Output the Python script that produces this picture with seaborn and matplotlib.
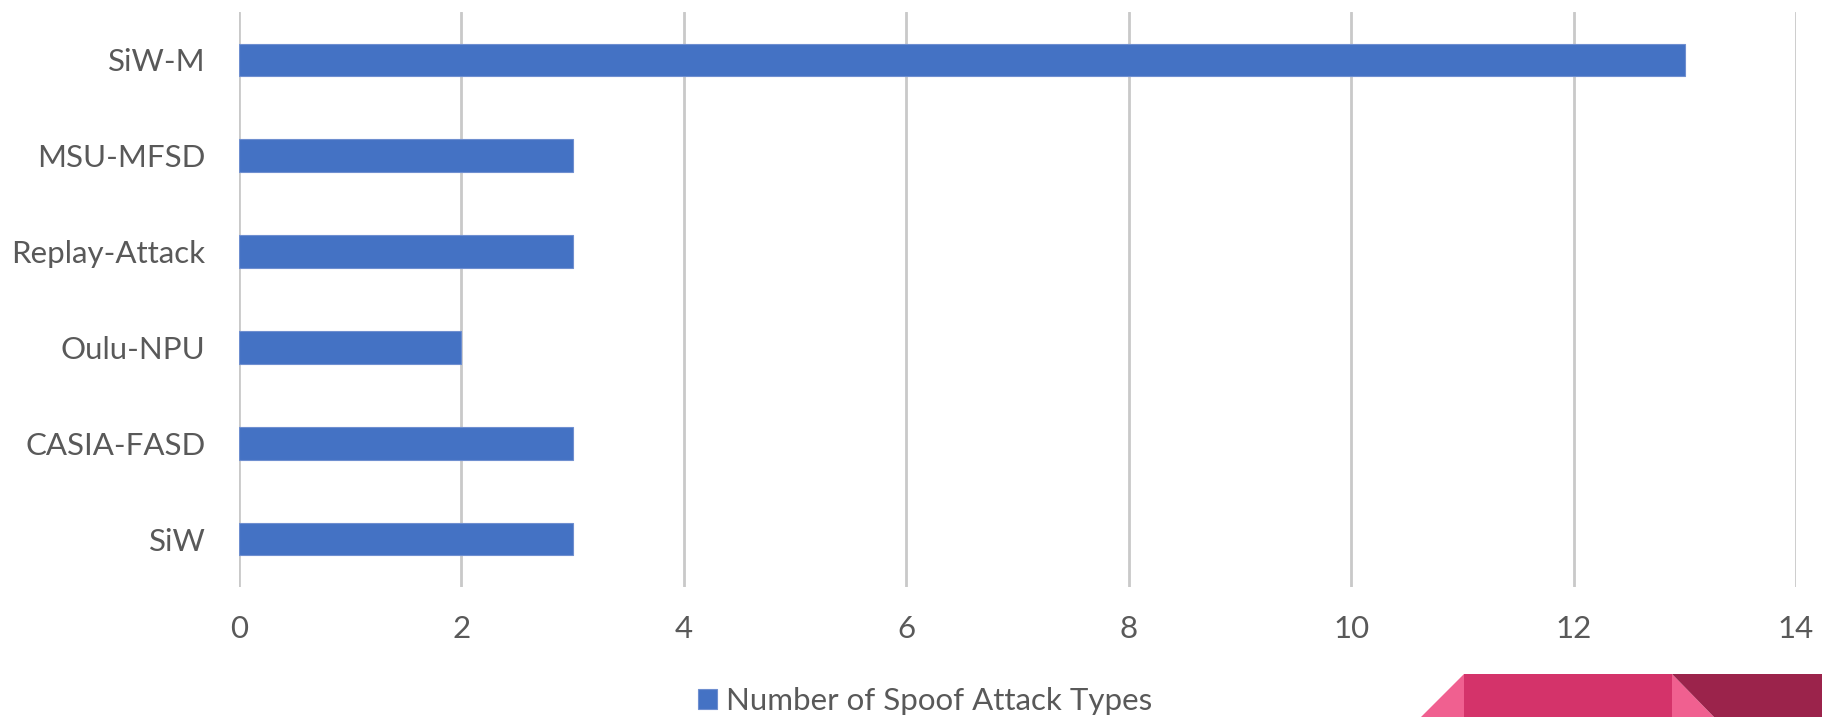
import matplotlib
matplotlib.use("Agg")
import matplotlib.pyplot as plt
from matplotlib.patches import Polygon
import seaborn as sns
import pandas as pd

# Datasets and the number of spoof attack types each one covers
datasets = ["SiW-M", "MSU-MFSD", "Replay-Attack", "Oulu-NPU", "CASIA-FASD", "SiW"]
attack_types = [13, 3, 3, 2, 3, 3]
x_ticks = [0, 2, 4, 6, 8, 10, 12, 14]
series_name = "Number of Spoof Attack Types"

df = pd.DataFrame({"dataset": datasets, "count": attack_types})

sns.set_theme(style="white")
plt.rcParams["font.family"] = ["Lato", "DejaVu Sans"]

W, H = 1822, 717
fig = plt.figure(figsize=(W / 100, H / 100), dpi=100)
ax = fig.add_axes([239 / W, 1 - 587 / H, (1796 - 239) / W, (587 - 12) / H])

sns.barplot(data=df, x="count", y="dataset", orient="h", color="#4472C4",
            width=0.34, saturation=1, edgecolor="#6f8fd0", linewidth=0.8,
            label=series_name, ax=ax, zorder=3)

ax.set_xlim(0, 14)
ax.set_ylim(5.5, -0.5)
ax.set_xticks(x_ticks)
ax.set_xticklabels([str(t) for t in x_ticks])
ax.xaxis.grid(True, color="#c9c9c9", linewidth=2.0, zorder=0)
ax.yaxis.grid(False)
ax.set_axisbelow(True)
for s in ax.spines.values():
    s.set_visible(False)
ax.set_xlabel("")
ax.set_ylabel("")
ax.tick_params(axis="x", length=0, pad=20, labelsize=22.5, labelcolor="#595959")
ax.tick_params(axis="y", length=0, pad=24, labelsize=22.5, labelcolor="#595959")

leg = ax.legend(loc="center", bbox_to_anchor=(925 / W, 1 - 701 / H),
                bbox_transform=fig.transFigure, frameon=False, fontsize=22.5,
                handlelength=0.6, handleheight=0.6, handletextpad=0.3,
                labelcolor="#595959")

# Ribbon ornament in the lower right corner (figure pixel coordinates)
def px(points):
    return [(x / W, 1 - y / H) for x, y in points]

shapes = [
    ([(1421, 717), (1464, 674), (1464, 717)], "#f06090"),
    ([(1464, 674), (1672, 674), (1672, 717), (1464, 717)], "#d4336a"),
    ([(1672, 674), (1714, 717), (1672, 717)], "#f06090"),
    ([(1672, 674), (1822, 674), (1822, 717), (1714, 717)], "#9b234b"),
]
for pts, col in shapes:
    fig.patches.append(Polygon(px(pts), closed=True, transform=fig.transFigure,
                               facecolor=col, edgecolor="none"))

fig.savefig("out.png", dpi=100)
